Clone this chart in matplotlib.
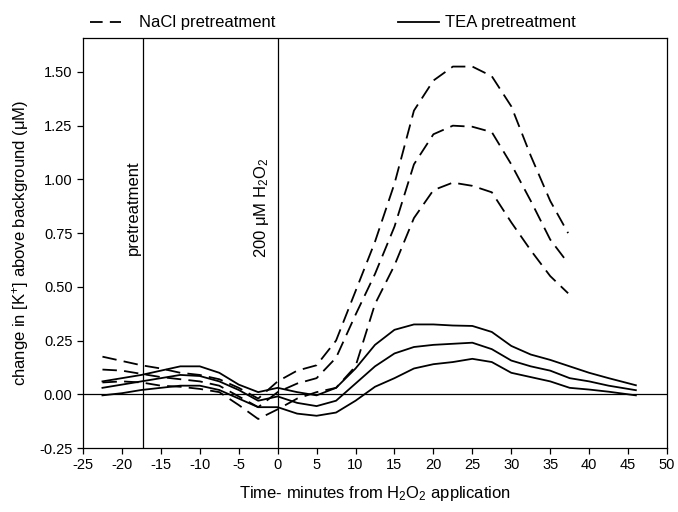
import numpy as np
import matplotlib
matplotlib.use("Agg")
import matplotlib.pyplot as plt
from matplotlib.lines import Line2D

plt.rcParams['font.family'] = ['Liberation Sans', 'DejaVu Sans']
plt.rcParams['mathtext.fontset'] = 'custom'
plt.rcParams['mathtext.rm'] = 'Liberation Sans'
plt.rcParams['mathtext.it'] = 'Liberation Sans:italic'

#======data============================
x_nacl = [-22.5, -20, -17.5, -15, -12.5, -10, -7.5, -5, -2.5, 0, 2.5, 5, 7.5,
          10, 12.5, 15, 17.5, 20, 22.5, 25, 27.5, 30, 32.5, 35, 37.3]
nacl_upper = [0.175, 0.155, 0.135, 0.12, 0.10, 0.09, 0.07, 0.03, -0.02, 0.06, 0.11, 0.135, 0.25,
              0.48, 0.71, 0.98, 1.32, 1.46, 1.525, 1.525, 1.48, 1.34, 1.11, 0.90, 0.75]
nacl_mean = [0.115, 0.11, 0.095, 0.08, 0.07, 0.06, 0.04, -0.01, -0.06, 0.01, 0.05, 0.075, 0.17,
             0.37, 0.56, 0.78, 1.07, 1.21, 1.25, 1.245, 1.22, 1.07, 0.90, 0.72, 0.61]
nacl_lower = [0.055, 0.06, 0.055, 0.04, 0.035, 0.025, 0.01, -0.05, -0.115, -0.07, -0.02, 0.01, 0.03,
              0.13, 0.42, 0.60, 0.82, 0.95, 0.985, 0.97, 0.94, 0.80, 0.67, 0.55, 0.47]

x_tea = [-22.5, -20, -17.5, -15, -12.5, -10, -7.5, -5, -2.5, 0, 2.5, 5, 7.5,
         10, 12.5, 15, 17.5, 20, 22.5, 25, 27.5, 30, 32.5, 35, 37.5, 40, 42.5, 46]
tea_upper = [0.06, 0.075, 0.09, 0.11, 0.13, 0.13, 0.10, 0.045, 0.01, 0.03, 0.01, -0.005, 0.03,
             0.12, 0.23, 0.30, 0.325, 0.325, 0.32, 0.318, 0.29, 0.225, 0.185, 0.16, 0.13, 0.10, 0.075, 0.042]
tea_mean = [0.03, 0.045, 0.06, 0.075, 0.09, 0.085, 0.06, 0.02, -0.03, -0.01, -0.04, -0.055, -0.03,
            0.05, 0.13, 0.19, 0.22, 0.23, 0.235, 0.24, 0.21, 0.157, 0.13, 0.11, 0.075, 0.06, 0.04, 0.019]
tea_lower = [-0.005, 0.005, 0.02, 0.03, 0.04, 0.04, 0.02, -0.02, -0.06, -0.06, -0.09, -0.10, -0.085,
             -0.03, 0.035, 0.075, 0.12, 0.14, 0.15, 0.165, 0.15, 0.10, 0.08, 0.06, 0.03, 0.022, 0.012, -0.005]

x_ticks = np.arange(-25, 51, 5)
y_ticks = np.arange(-0.25, 1.51, 0.25)
pretreat_x = -17.3
h2o2_x = 0

#======figure=======
fig = plt.figure(figsize=(6.78, 5.12), dpi=100)
ax = fig.add_axes([0.1224, 0.125, 0.8614, 0.8008])

dash = (0, (8, 4))
for yy in (nacl_upper, nacl_mean, nacl_lower):
    ax.plot(x_nacl, yy, color='black', lw=1.3, linestyle=dash)
for yy in (tea_upper, tea_mean, tea_lower):
    ax.plot(x_tea, yy, color='black', lw=1.3)

ax.axhline(0, color='black', lw=0.9)
ax.axvline(pretreat_x, color='black', lw=0.9)
ax.axvline(h2o2_x, color='black', lw=0.9)

ax.set_xlim(-25, 50)
ax.set_ylim(-0.25, 1.658)
ax.set_xticks(x_ticks)
ax.set_xticklabels([str(v) for v in x_ticks])
ax.set_yticks(y_ticks)
ax.set_yticklabels(['%.2f' % v for v in y_ticks])
ax.tick_params(direction='out', length=4, width=0.9, labelsize=10.5,
               top=False, right=False)
for sp in ax.spines.values():
    sp.set_linewidth(0.9)

ax.set_xlabel('Time- minutes from H$_2$O$_2$ application', fontsize=12, labelpad=8)
ax.set_ylabel('change in [K$^{+}$] above background (\u03bcM)', fontsize=12, labelpad=6)

ax.text(pretreat_x - 0.3, 0.87, 'pretreatment', rotation=90, ha='right', va='center', fontsize=12)
ax.text(h2o2_x - 0.8, 0.87, '200 \u03bcM H$_2$O$_2$', rotation=90, ha='right', va='center', fontsize=12)

# legend drawn across the top
fig.add_artist(Line2D([0.133, 0.178], [0.957, 0.957], color='black', lw=1.3,
                      linestyle=(0, (7, 4)), transform=fig.transFigure))
fig.text(0.205, 0.957, 'NaCl pretreatment', fontsize=12, va='center')
fig.add_artist(Line2D([0.587, 0.648], [0.957, 0.957], color='black', lw=1.3,
                      transform=fig.transFigure))
fig.text(0.656, 0.957, 'TEA pretreatment', fontsize=12, va='center')

fig.savefig('out.png', dpi=100)
